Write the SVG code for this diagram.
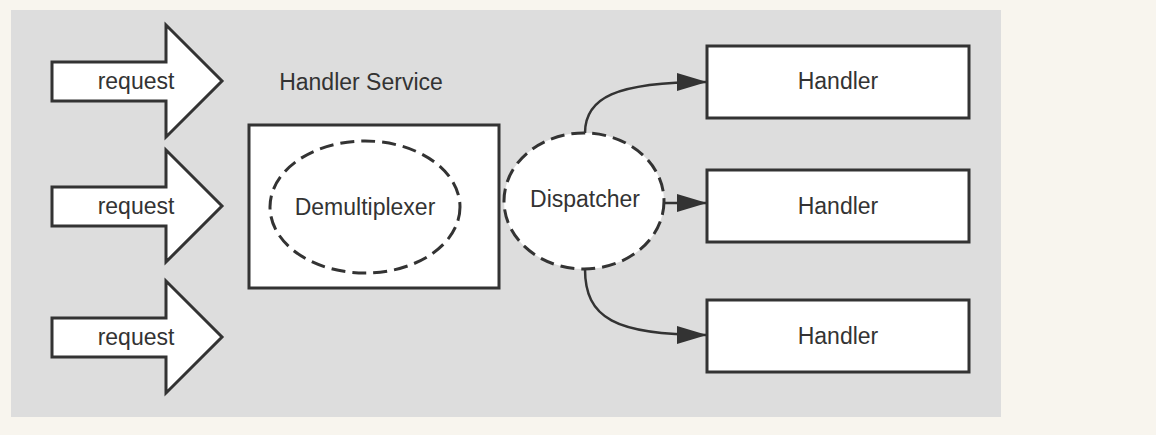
<svg xmlns="http://www.w3.org/2000/svg" width="1156" height="435" viewBox="0 0 1156 435">
<defs>
<style>
.lbl{font-family:"Liberation Sans",Arial,sans-serif;font-size:23px;fill:#333;text-anchor:middle;dominant-baseline:central}
.shape{fill:#fff;stroke:#333;stroke-width:3}
.dash{fill:#fff;stroke:#333;stroke-width:3;stroke-dasharray:14,7}
.conn{fill:none;stroke:#333;stroke-width:2.5}
</style>
<marker id="ah" viewBox="0 0 30 18" refX="30" refY="9" markerWidth="30" markerHeight="18" markerUnits="userSpaceOnUse" orient="auto">
<path d="M0,0 L30,9 L0,18 Z" fill="#333"/>
</marker>
</defs>
<rect x="0" y="0" width="1156" height="435" fill="#f8f5ee"/>
<rect x="11" y="10" width="990" height="407" fill="#dddddd"/>
<g id="request1">
<path class="shape" d="M52,62 L166,62 L166,25 L222,81 L166,137 L166,101 L52,101 Z"/>
<text class="lbl" x="136" y="81">request</text>
</g>
<g id="request2">
<path class="shape" d="M52,187 L166,187 L166,150 L222,206 L166,262 L166,226 L52,226 Z"/>
<text class="lbl" x="136" y="206">request</text>
</g>
<g id="request3">
<path class="shape" d="M52,318 L166,318 L166,281 L222,337 L166,393 L166,357 L52,357 Z"/>
<text class="lbl" x="136" y="337">request</text>
</g>
<g id="handler-service">
<text class="lbl" x="361" y="82">Handler Service</text>
<rect class="shape" x="249" y="125" width="250" height="163"/>
</g>
<g id="demultiplexer">
<ellipse class="dash" cx="365" cy="207" rx="95" ry="66"/>
<text class="lbl" x="365" y="207">Demultiplexer</text>
</g>
<g id="connectors">
<path class="conn" d="M585,133 C585,98 615,82 707,82" marker-end="url(#ah)"/>
<path class="conn" d="M664,203 L707,203" marker-end="url(#ah)"/>
<path class="conn" d="M585,269 C585,318 615,335 707,335" marker-end="url(#ah)"/>
</g>
<g id="dispatcher">
<ellipse class="dash" cx="584" cy="201" rx="80" ry="68"/>
<text class="lbl" x="585" y="199">Dispatcher</text>
</g>
<g id="handler1">
<rect class="shape" x="707" y="46" width="262" height="72"/>
<text class="lbl" x="838" y="81">Handler</text>
</g>
<g id="handler2">
<rect class="shape" x="707" y="170" width="262" height="72"/>
<text class="lbl" x="838" y="206">Handler</text>
</g>
<g id="handler3">
<rect class="shape" x="707" y="300" width="262" height="72"/>
<text class="lbl" x="838" y="336">Handler</text>
</g>
</svg>
